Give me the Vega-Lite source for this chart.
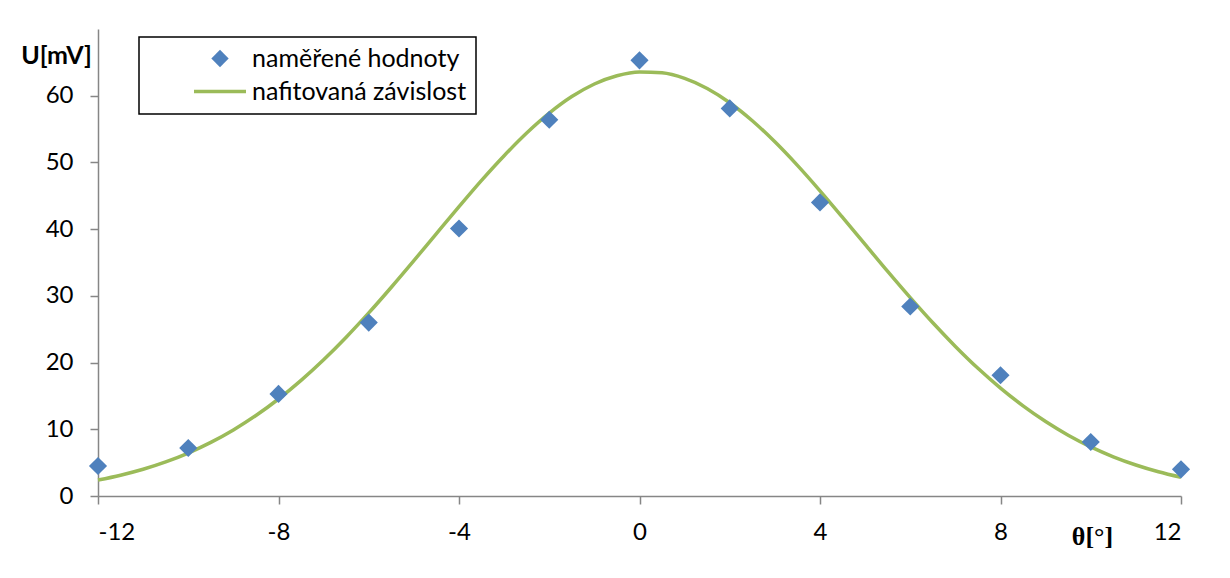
{
  "$schema": "https://vega.github.io/schema/vega-lite/v6.json",
  "width": 1083,
  "height": 467,
  "autosize": {"type": "none"},
  "padding": {"left": 98, "top": 29, "right": 49, "bottom": 82},
  "background": "white",
  "config": {
    "view": {"stroke": null},
    "font": "Lato",
    "axis": {
      "grid": false,
      "domainColor": "#868686",
      "tickColor": "#868686",
      "domainWidth": 1.5,
      "tickWidth": 1.5,
      "tickSize": 8,
      "labelFont": "Lato",
      "labelFontSize": 24,
      "labelColor": "#000000",
      "titleColor": "#000000",
      "labelExpr": "replace(datum.label, '−', '-')"
    }
  },
  "datasets": {
    "measured": [
      {"theta": -12, "U": 4.5, "series": "naměřené hodnoty"},
      {"theta": -10, "U": 7.2, "series": "naměřené hodnoty"},
      {"theta": -8, "U": 15.3, "series": "naměřené hodnoty"},
      {"theta": -6, "U": 26.0, "series": "naměřené hodnoty"},
      {"theta": -4, "U": 40.1, "series": "naměřené hodnoty"},
      {"theta": -2, "U": 56.4, "series": "naměřené hodnoty"},
      {"theta": 0, "U": 65.3, "series": "naměřené hodnoty"},
      {"theta": 2, "U": 58.1, "series": "naměřené hodnoty"},
      {"theta": 4, "U": 44.0, "series": "naměřené hodnoty"},
      {"theta": 6, "U": 28.4, "series": "naměřené hodnoty"},
      {"theta": 8, "U": 18.1, "series": "naměřené hodnoty"},
      {"theta": 10, "U": 8.1, "series": "naměřené hodnoty"},
      {"theta": 12, "U": 4.0, "series": "naměřené hodnoty"}
    ],
    "fit": [
      {"theta": -12, "U": 2.39, "series": "nafitovaná závislost"},
      {"theta": -11.5, "U": 3.12, "series": "nafitovaná závislost"},
      {"theta": -11, "U": 4.01, "series": "nafitovaná závislost"},
      {"theta": -10.5, "U": 5.11, "series": "nafitovaná závislost"},
      {"theta": -10, "U": 6.44, "series": "nafitovaná závislost"},
      {"theta": -9.5, "U": 8.03, "series": "nafitovaná závislost"},
      {"theta": -9, "U": 9.90, "series": "nafitovaná závislost"},
      {"theta": -8.5, "U": 12.06, "series": "nafitovaná závislost"},
      {"theta": -8, "U": 14.54, "series": "nafitovaná závislost"},
      {"theta": -7.5, "U": 17.33, "series": "nafitovaná závislost"},
      {"theta": -7, "U": 20.42, "series": "nafitovaná závislost"},
      {"theta": -6.5, "U": 23.80, "series": "nafitovaná závislost"},
      {"theta": -6, "U": 27.44, "series": "nafitovaná závislost"},
      {"theta": -5.5, "U": 31.29, "series": "nafitovaná závislost"},
      {"theta": -5, "U": 35.28, "series": "nafitovaná závislost"},
      {"theta": -4.5, "U": 39.34, "series": "nafitovaná závislost"},
      {"theta": -4, "U": 43.37, "series": "nafitovaná závislost"},
      {"theta": -3.5, "U": 47.31, "series": "nafitovaná závislost"},
      {"theta": -3, "U": 51.01, "series": "nafitovaná závislost"},
      {"theta": -2.5, "U": 54.41, "series": "nafitovaná závislost"},
      {"theta": -2, "U": 57.39, "series": "nafitovaná závislost"},
      {"theta": -1.5, "U": 59.87, "series": "nafitovaná závislost"},
      {"theta": -1, "U": 61.76, "series": "nafitovaná závislost"},
      {"theta": -0.5, "U": 63.00, "series": "nafitovaná závislost"},
      {"theta": 0, "U": 63.57, "series": "nafitovaná závislost"},
      {"theta": 0.5, "U": 63.43, "series": "nafitovaná závislost"},
      {"theta": 1, "U": 62.59, "series": "nafitovaná závislost"},
      {"theta": 1.5, "U": 61.08, "series": "nafitovaná závislost"},
      {"theta": 2, "U": 58.95, "series": "nafitovaná závislost"},
      {"theta": 2.5, "U": 56.25, "series": "nafitovaná závislost"},
      {"theta": 3, "U": 53.09, "series": "nafitovaná závislost"},
      {"theta": 3.5, "U": 49.56, "series": "nafitovaná závislost"},
      {"theta": 4, "U": 45.75, "series": "nafitovaná závislost"},
      {"theta": 4.5, "U": 41.77, "series": "nafitovaná závislost"},
      {"theta": 5, "U": 37.71, "series": "nafitovaná závislost"},
      {"theta": 5.5, "U": 33.66, "series": "nafitovaná závislost"},
      {"theta": 6, "U": 29.73, "series": "nafitovaná závislost"},
      {"theta": 6.5, "U": 25.96, "series": "nafitovaná závislost"},
      {"theta": 7, "U": 22.42, "series": "nafitovaná závislost"},
      {"theta": 7.5, "U": 19.14, "series": "nafitovaná závislost"},
      {"theta": 8, "U": 16.17, "series": "nafitovaná závislost"},
      {"theta": 8.5, "U": 13.51, "series": "nafitovaná závislost"},
      {"theta": 9, "U": 11.16, "series": "nafitovaná závislost"},
      {"theta": 9.5, "U": 9.11, "series": "nafitovaná závislost"},
      {"theta": 10, "U": 7.36, "series": "nafitovaná závislost"},
      {"theta": 10.5, "U": 5.88, "series": "nafitovaná závislost"},
      {"theta": 11, "U": 4.65, "series": "nafitovaná závislost"},
      {"theta": 11.5, "U": 3.63, "series": "nafitovaná závislost"},
      {"theta": 12, "U": 2.80, "series": "nafitovaná závislost"}
    ]
  },
  "encoding": {
    "x": {
      "field": "theta",
      "type": "quantitative",
      "scale": {"domain": [-12, 12], "nice": false, "zero": false},
      "axis": {
        "values": [-12, -8, -4, 0, 4, 8, 12],
        "labelPadding": 16,
        "title": "θ[°]",
        "titleFont": "Liberation Serif",
        "titleFontSize": 26,
        "titleFontWeight": "bold",
        "titleAnchor": null,
        "titleAlign": "center",
        "titleBaseline": "alphabetic",
        "titleX": 994,
        "titleY": 48
      }
    },
    "y": {
      "field": "U",
      "type": "quantitative",
      "scale": {"domain": [0, 70], "nice": false},
      "axis": {
        "values": [0, 10, 20, 30, 40, 50, 60],
        "labelPadding": 17,
        "title": "U[mV]",
        "titleFont": "Lato",
        "titleFontSize": 25,
        "titleFontWeight": "bold",
        "titleAngle": 0,
        "titleAnchor": null,
        "titleAlign": "center",
        "titleBaseline": "alphabetic",
        "titleX": -42,
        "titleY": 34
      }
    },
    "color": {
      "field": "series",
      "type": "nominal",
      "scale": {
        "domain": ["naměřené hodnoty", "nafitovaná závislost"],
        "range": ["#4F81BD", "#9BBB59"]
      },
      "legend": {
        "title": null,
        "orient": "none",
        "legendX": 41,
        "legendY": 8,
        "strokeColor": "#000000",
        "fillColor": "white",
        "padding": 9,
        "labelFont": "Lato",
        "labelFontSize": 25,
        "labelColor": "#000000",
        "labelLimit": 600,
        "rowPadding": 7,
        "encode": {
          "legend": {"update": {"strokeWidth": {"value": 1.5}}},
          "entries": {
            "update": {
              "width": {"value": 337},
              "height": {"value": 28},
              "fill": {"value": "transparent"}
            }
          },
          "labels": {
            "update": {
              "x": {"value": 104},
              "text": {"signal": "datum.label"}
            }
          },
          "symbols": {
            "update": {
              "x": {"value": 72},
              "shape": {"signal": "datum.label == 'naměřené hodnoty' ? 'diamond' : 'stroke'"},
              "size": {"signal": "datum.label == 'naměřené hodnoty' ? 300 : 2704"},
              "fill": {"signal": "datum.label == 'naměřené hodnoty' ? '#4F81BD' : 'transparent'"},
              "stroke": {"signal": "datum.label == 'naměřené hodnoty' ? 'transparent' : '#9BBB59'"},
              "strokeWidth": {"signal": "datum.label == 'naměřené hodnoty' ? 0 : 3.5"},
              "opacity": {"value": 1}
            }
          }
        }
      }
    }
  },
  "layer": [
    {
      "data": {"name": "fit"},
      "mark": {"type": "line", "strokeWidth": 3.5, "interpolate": "monotone"}
    },
    {
      "data": {"name": "measured"},
      "mark": {"type": "point", "shape": "diamond", "filled": true, "size": 330, "opacity": 1}
    }
  ]
}
